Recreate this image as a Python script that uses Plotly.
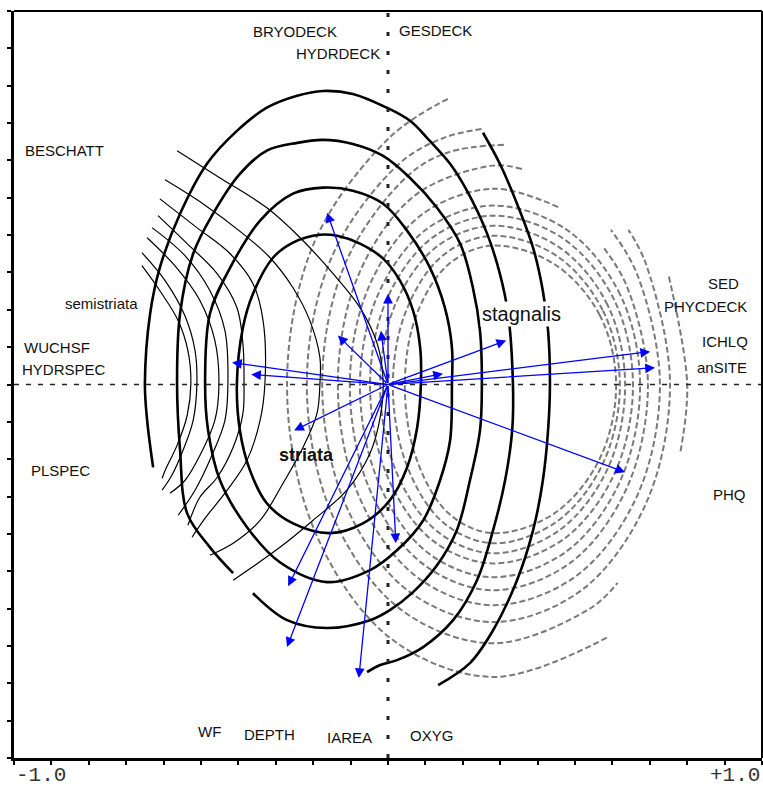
import plotly.graph_objects as go

# --- striata: thick solid response contours (inner -> outer) ---
striata_x = [
    [-0.404, -0.396, -0.369, -0.324, -0.254, -0.155, -0.067, 0.005, 0.051, 0.078, 0.088, 0.086, 0.067,
     0.032, -0.013, -0.075, -0.136, -0.182, -0.254, -0.307, -0.361, -0.388, -0.404],
    [-0.489, -0.476, -0.422, -0.342, -0.254, -0.174, -0.094, -0.013, 0.051, 0.112, 0.152, 0.171, 0.171,
     0.166, 0.139, 0.094, 0.024, -0.048, -0.163, -0.289, -0.377, -0.449, -0.481, -0.489],
    [-0.361, -0.270, -0.163, -0.048, 0.005, 0.067, 0.131, 0.184, 0.219, 0.246, 0.251, 0.246, 0.227,
     0.193, 0.131, 0.059, -0.013, -0.094, -0.174, -0.243, -0.324, -0.396, -0.468, -0.521, -0.556,
     -0.564, -0.556, -0.537, -0.476, -0.414],
    [-0.628, -0.644, -0.650, -0.636, -0.610, -0.556, -0.484, -0.404, -0.324, -0.243, -0.174, -0.094,
     -0.003, 0.059, 0.112, 0.166, 0.211, 0.265, 0.299, 0.321, 0.334, 0.332, 0.313, 0.281, 0.238,
     0.174, 0.094, 0.024, -0.021, -0.056],
    [0.254, 0.299, 0.345, 0.388, 0.414, 0.428, 0.433, 0.428, 0.414, 0.388, 0.345, 0.281, 0.219, 0.134],
]
striata_y = [
    [0.003, -0.123, -0.230, -0.318, -0.372, -0.398, -0.372, -0.310, -0.222, -0.115, 0.003, 0.099, 0.198,
     0.278, 0.337, 0.377, 0.398, 0.401, 0.380, 0.340, 0.243, 0.152, 0.003],
    [0.003, 0.190, 0.313, 0.439, 0.511, 0.527, 0.519, 0.484, 0.412, 0.313, 0.206, 0.099, 0.003,
     -0.150, -0.257, -0.364, -0.444, -0.497, -0.529, -0.476, -0.382, -0.257, -0.123, 0.003],
    [-0.559, -0.631, -0.652, -0.631, -0.604, -0.556, -0.484, -0.390, -0.257, -0.123, 0.003, 0.144,
     0.259, 0.377, 0.473, 0.553, 0.612, 0.644, 0.655, 0.647, 0.626, 0.564, 0.457, 0.350, 0.190,
     0.003, -0.176, -0.345, -0.436, -0.505],
    [-0.222, -0.096, 0.003, 0.190, 0.313, 0.457, 0.591, 0.679, 0.741, 0.773, 0.786, 0.778, 0.741,
     0.706, 0.652, 0.591, 0.519, 0.404, 0.297, 0.190, 0.003, -0.123, -0.257, -0.390, -0.524, -0.631,
     -0.703, -0.738, -0.751, -0.770],
    [0.674, 0.591, 0.484, 0.366, 0.251, 0.144, 0.003, -0.123, -0.257, -0.390, -0.524, -0.658, -0.746, -0.805],
]

# --- semistriata: thin solid contours (outer -> inner) ---
semi_x = [
    [-0.564, -0.449, -0.324, -0.235, -0.147, -0.075, -0.029, -0.013, -0.021, -0.048, -0.110, -0.201, -0.289, -0.414],
    [-0.596, -0.495, -0.388, -0.316, -0.254, -0.209, -0.182, -0.182, -0.190, -0.227, -0.281, -0.342, -0.414, -0.476],
    [-0.610, -0.511, -0.422, -0.361, -0.334, -0.329, -0.342, -0.377, -0.430, -0.489, -0.524],
    [-0.615, -0.537, -0.457, -0.404, -0.388, -0.385, -0.388, -0.414, -0.457, -0.503, -0.535],
    [-0.631, -0.543, -0.476, -0.436, -0.428, -0.436, -0.471, -0.516, -0.561],
    [-0.644, -0.570, -0.503, -0.463, -0.452, -0.463, -0.503, -0.543, -0.583],
    [-0.658, -0.596, -0.543, -0.516, -0.511, -0.521, -0.548, -0.578, -0.604],
    [-0.658, -0.610, -0.561, -0.535, -0.527, -0.537, -0.564, -0.596, -0.604],
]
semi_y = [
    [0.626, 0.553, 0.473, 0.393, 0.297, 0.206, 0.110, 0.011, -0.088, -0.184, -0.283, -0.364, -0.436, -0.524],
    [0.548, 0.484, 0.404, 0.340, 0.259, 0.171, 0.072, 0.003, -0.078, -0.168, -0.265, -0.364, -0.425, -0.457],
    [0.497, 0.420, 0.350, 0.270, 0.171, 0.003, -0.096, -0.203, -0.283, -0.358, -0.409],
    [0.452, 0.377, 0.297, 0.206, 0.110, 0.003, -0.078, -0.168, -0.249, -0.302, -0.377],
    [0.420, 0.345, 0.251, 0.144, 0.003, -0.096, -0.190, -0.283, -0.350],
    [0.393, 0.318, 0.225, 0.118, 0.003, -0.096, -0.190, -0.257, -0.291],
    [0.353, 0.278, 0.184, 0.091, 0.003, -0.096, -0.176, -0.243, -0.283],
    [0.318, 0.251, 0.171, 0.091, 0.003, -0.083, -0.163, -0.230, -0.251],
]

# --- stagnalis: grey dashed contours (outer -> inner), None = break ---
stag_x = [
    [0.16, 0.005, -0.196, -0.27, -0.196, 0.005, 0.28, 0.585],
    [0.25, 0.151, 0.031, -0.150, -0.217, -0.150, 0.031, 0.28, 0.54, 0.614, None, 0.751, 0.80, 0.782],
    [0.31, 0.162, 0.052, -0.115, -0.176, -0.115, 0.052, 0.28, 0.517, 0.690, 0.754, 0.690, 0.643],
    [0.358, 0.28, 0.073, -0.079, -0.134, -0.079, 0.073, 0.28, 0.504, 0.667, 0.727, 0.667, 0.596],
    [0.455, 0.28, 0.089, -0.051, -0.102, -0.051, 0.089, 0.28, 0.488, 0.639, 0.695, 0.639, 0.573],
    [0.674, 0.621, 0.477, 0.28, 0.102, -0.027, -0.075, -0.027, 0.102, 0.28, 0.477, 0.621, 0.674],
    [0.655, 0.605, 0.468, 0.28, 0.116, -0.004, -0.048, -0.004, 0.116, 0.28, 0.468, 0.605, 0.655],
    [0.634, 0.587, 0.457, 0.28, 0.129, 0.019, -0.021, 0.019, 0.129, 0.28, 0.457, 0.587, 0.634],
    [0.62, 0.574, 0.45, 0.28, 0.146, 0.049, 0.013, 0.049, 0.146, 0.28, 0.45, 0.574, 0.62],
    [0.61, 0.566, 0.445, 0.28, 0.162, 0.076, 0.045, 0.076, 0.162, 0.28, 0.445, 0.566, 0.61],
]
stag_y = [
    [0.765, 0.662, 0.383, 0.0, -0.392, -0.678, -0.783, -0.678],
    [0.684, 0.661, 0.592, 0.342, 0.0, -0.347, -0.600, -0.693, -0.600, -0.531, None, 0.289, 0.0, -0.179],
    [0.642, 0.622, 0.558, 0.322, 0.0, -0.318, -0.551, -0.636, -0.551, -0.318, 0.0, 0.322, 0.414],
    [0.577, 0.586, 0.507, 0.293, 0.0, -0.296, -0.512, -0.591, -0.512, -0.296, 0.0, 0.293, 0.414],
    [0.475, 0.524, 0.454, 0.262, 0.0, -0.276, -0.477, -0.551, -0.477, -0.276, 0.0, 0.262, 0.371],
    [0.0, 0.240, 0.415, 0.479, 0.415, 0.240, 0.0, -0.258, -0.447, -0.516, -0.447, -0.258, 0.0],
    [0.0, 0.226, 0.391, 0.452, 0.391, 0.226, 0.0, -0.240, -0.415, -0.479, -0.415, -0.240, 0.0],
    [0.0, 0.213, 0.368, 0.425, 0.368, 0.213, 0.0, -0.226, -0.391, -0.452, -0.391, -0.226, 0.0],
    [0.0, 0.199, 0.345, 0.398, 0.345, 0.199, 0.0, -0.213, -0.368, -0.425, -0.368, -0.213, 0.0],
    [0.0, 0.186, 0.322, 0.372, 0.322, 0.186, 0.0, -0.199, -0.345, -0.398, -0.345, -0.199, 0.0],
]

# --- environmental variable arrows (tips, all from origin) ---
env_x = [-0.163, -0.134, -0.019, 0.0, -0.417, -0.366, -0.251, -0.267, -0.270, -0.078,
         0.021, 0.316, 0.147, 0.701, 0.714, 0.634]
env_y = [0.460, 0.131, 0.144, 0.243, 0.059, 0.027, -0.123, -0.540, -0.703, -0.786,
         -0.425, 0.118, 0.029, 0.088, 0.045, -0.235]

# --- labels ---
env_names = ["BRYODECK", "HYDRDECK", "GESDECK", "BESCHATT", "WUCHSF", "HYDRSPEC", "PLSPEC",
             "SED", "PHYCDECK", "ICHLQ", "anSITE", "PHQ", "WF", "DEPTH", "IAREA", "OXYG"]
species_names = ["semistriata", "striata", "stagnalis"]

# label placement (data units)
env_label_xy = [(-0.249, 0.944), (-0.134, 0.885), (0.126, 0.949), (-0.865, 0.626), (-0.885, 0.099),
                (-0.866, 0.040), (-0.876, -0.230), (0.896, 0.270), (0.848, 0.209), (0.900, 0.115),
                (0.892, 0.045), (0.914, -0.294), (-0.477, -0.930), (-0.317, -0.936), (-0.102, -0.944),
                (0.116, -0.941)]
species_label_xy = [(-0.767, 0.217), (-0.218, -0.190), (0.356, 0.190)]

FONT = "Liberation Sans, Arial, sans-serif"

fig = go.Figure()

for xs, ys in zip(stag_x, stag_y):
    fig.add_trace(go.Scatter(x=xs, y=ys, mode="lines", showlegend=False, hoverinfo="skip",
                             line=dict(color="#7a7a7a", width=2, dash="6px,3px", shape="spline")))
for xs, ys in zip(semi_x, semi_y):
    fig.add_trace(go.Scatter(x=xs, y=ys, mode="lines", showlegend=False, hoverinfo="skip",
                             line=dict(color="black", width=1.2, shape="spline")))
for xs, ys in zip(striata_x, striata_y):
    fig.add_trace(go.Scatter(x=xs, y=ys, mode="lines", showlegend=False, hoverinfo="skip",
                             line=dict(color="black", width=2.6, shape="spline")))

annotations = []
# arrows
for tx, ty in zip(env_x, env_y):
    annotations.append(dict(x=tx, y=ty, ax=0, ay=0, xref="x", yref="y", axref="x", ayref="y",
                            text="", showarrow=True, arrowhead=2, arrowsize=1.5, arrowwidth=1.3,
                            arrowcolor="#0000ff", standoff=0))
# env labels
for name, (lx, ly) in zip(env_names, env_label_xy):
    annotations.append(dict(x=lx, y=ly, xref="x", yref="y", text=name, showarrow=False,
                            xanchor="center", yanchor="middle",
                            font=dict(family=FONT, size=15, color="#111")))
# species labels
sp_styles = [dict(size=15, text=species_names[0], bg=None),
             dict(size=18, text="<b>" + species_names[1] + "</b>", bg=None),
             dict(size=20, text=species_names[2], bg="white")]
for st, (lx, ly) in zip(sp_styles, species_label_xy):
    a = dict(x=lx, y=ly, xref="x", yref="y", text=st["text"], showarrow=False,
             xanchor="center", yanchor="middle", font=dict(family=FONT, size=st["size"], color="#111"))
    if st["bg"]:
        a["bgcolor"] = st["bg"]
    annotations.append(a)
# axis end labels
mono = dict(family="Liberation Mono, Courier New, monospace", size=21, color="#333")
annotations.append(dict(x=-1, y=-0.0228, xref="x", yref="paper", text="-1.0", showarrow=False,
                        xanchor="left", yanchor="middle", font=mono))
annotations.append(dict(x=1, y=-0.0228, xref="x", yref="paper", text="+1.0", showarrow=False,
                        xanchor="right", yanchor="middle", font=mono))

shapes = [
    # horizontal dashed zero line
    dict(type="line", xref="x", yref="y", x0=-1, x1=1, y0=0, y1=0, layer="above",
         line=dict(color="#222", width=1.5, dash="5px,7px")),
    # vertical dotted zero line
    dict(type="line", xref="x", yref="y", x0=0, x1=0, y0=-1, y1=1, layer="above",
         line=dict(color="#222", width=3, dash="4px,15px")),
    # top and right frame
    dict(type="line", xref="paper", yref="paper", x0=0, x1=1, y0=1, y1=1,
         line=dict(color="black", width=2)),
    dict(type="line", xref="paper", yref="paper", x0=1, x1=1, y0=0, y1=1,
         line=dict(color="black", width=2)),
]

axis_style = dict(range=[-1, 1], showgrid=False, zeroline=False, showline=True, linewidth=3,
                  linecolor="black", ticks="outside", ticklen=4, tickwidth=2, tickcolor="black",
                  tick0=-1, dtick=0.1, showticklabels=False, mirror=False, fixedrange=True)

fig.update_layout(
    width=763, height=787,
    margin=dict(l=14, r=1, t=11, b=29),
    plot_bgcolor="white", paper_bgcolor="white",
    xaxis=axis_style, yaxis=axis_style,
    annotations=annotations, shapes=shapes,
    showlegend=False,
)

# drop the default page margin so the figure sits at the window's top-left corner
fig.write_html("out.html", config={"displayModeBar": False},
               post_script="document.body.style.margin='0';document.body.style.overflow='hidden';")
